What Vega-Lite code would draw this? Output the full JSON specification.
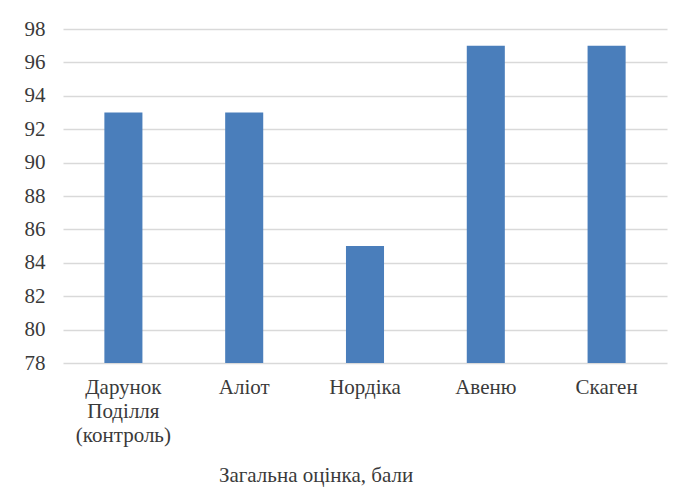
{
  "$schema": "https://vega.github.io/schema/vega-lite/v6.json",
  "width": 604,
  "height": 334,
  "autosize": {"type": "none"},
  "padding": {"left": 63, "top": 29, "right": 18, "bottom": 125},
  "background": "white",
  "config": {
    "view": {"stroke": null},
    "font": "Times New Roman"
  },
  "data": {
    "values": [
      {"variety": "Дарунок Поділля (контроль)", "score": 93},
      {"variety": "Аліот", "score": 93},
      {"variety": "Нордіка", "score": 85},
      {"variety": "Авеню", "score": 97},
      {"variety": "Скаген", "score": 97}
    ]
  },
  "mark": {"type": "bar", "color": "#4a7ebb", "clip": true},
  "encoding": {
    "x": {
      "field": "variety",
      "type": "nominal",
      "sort": null,
      "scale": {"paddingInner": 0.685, "paddingOuter": 0.3425},
      "axis": {
        "title": "Загальна оцінка, бали",
        "titleFont": "Times New Roman",
        "titleFontSize": 21,
        "titleFontWeight": "normal",
        "titleColor": "#3a3a3a",
        "titleX": 252.5,
        "titleY": 118,
        "titleBaseline": "alphabetic",
        "titleAnchor": null,
        "titleAlign": "center",
        "labelAngle": 0,
        "labelFont": "Times New Roman",
        "labelFontSize": 21,
        "labelColor": "#3a3a3a",
        "labelLineHeight": 24,
        "labelPadding": 13,
        "labelExpr": "datum.value == 'Дарунок Поділля (контроль)' ? ['Дарунок', 'Поділля', '(контроль)'] : datum.value",
        "ticks": false,
        "domain": false,
        "grid": false
      }
    },
    "y": {
      "field": "score",
      "type": "quantitative",
      "scale": {"domain": [78, 98], "zero": false, "nice": false},
      "axis": {
        "title": null,
        "values": [78, 80, 82, 84, 86, 88, 90, 92, 94, 96, 98],
        "labelFont": "Times New Roman",
        "labelFontSize": 21,
        "labelColor": "#3a3a3a",
        "labelPadding": 18,
        "ticks": false,
        "domain": false,
        "grid": true,
        "gridColor": "#d9d9d9",
        "gridWidth": 1.3
      }
    }
  }
}
